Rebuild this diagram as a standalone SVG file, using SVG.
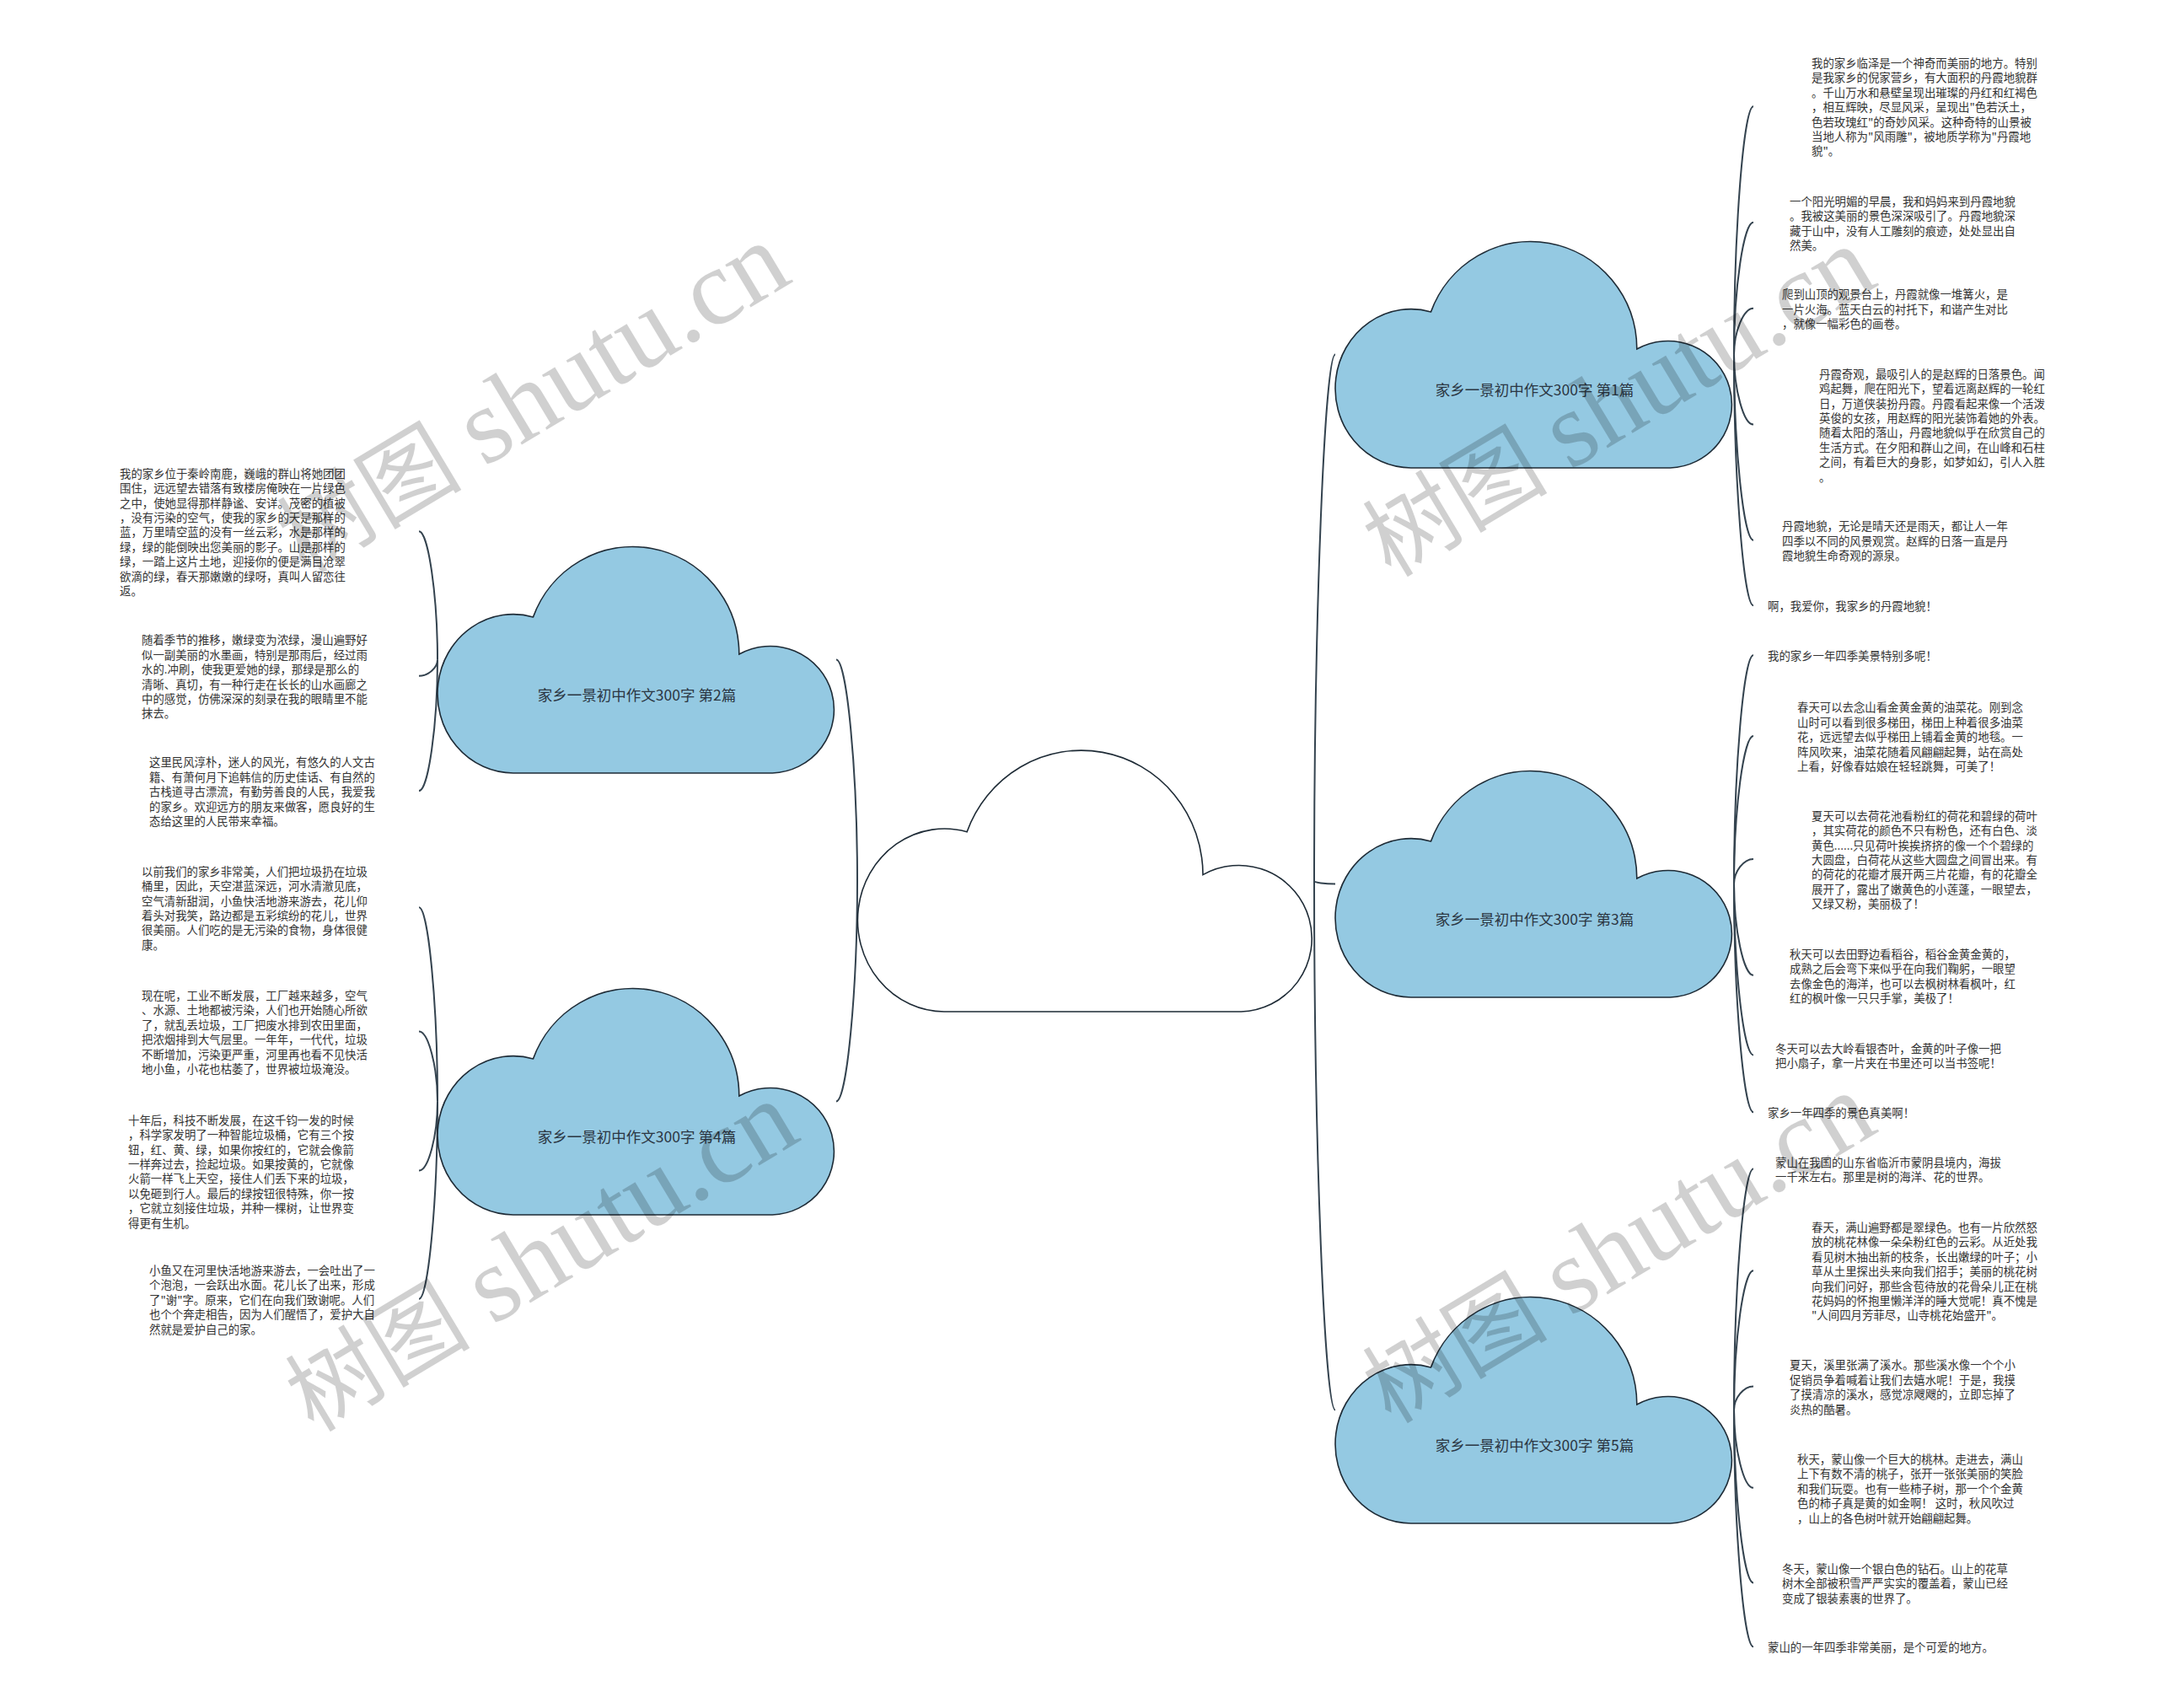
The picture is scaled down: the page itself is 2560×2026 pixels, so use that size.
<svg xmlns="http://www.w3.org/2000/svg" xmlns:xlink="http://www.w3.org/1999/xlink" width="2560" height="2026" viewBox="0 0 2560 2026">
<style>
.cloud{fill:#94c9e2;stroke:#1e2b36;stroke-width:1.6}
.rootc{fill:#ffffff;stroke:#1e2b36;stroke-width:1.6}
.lbl{font-family:"Noto Sans CJK SC",sans-serif;font-size:17.5px;fill:#2b3642;text-anchor:middle;dominant-baseline:central}
.t{font-family:"Noto Sans CJK SC",sans-serif;font-size:13.4px;fill:#333333;dominant-baseline:central}
.conn{fill:none;stroke:#34434f;stroke-width:2}
.wm{font-family:"Liberation Serif","Noto Sans CJK SC",serif;font-size:110px;fill:#000000;opacity:0.18}
.wml{font-size:128px}
</style>
<defs>
<path id="cloudS" d="M 89.9,269 A 89.9 94.2 0 1 1 113.5,83.9 A 126.1 128.0 0 0 1 357.8,128.0 A 75.7 75.3 0 1 1 397.3,269 Z"/>
<path id="cloudL" d="M 103,310 A 103 108.5 0 1 1 130.1,96.7 A 144.4 147.6 0 0 1 410.0,147.6 A 86.7 86.8 0 1 1 455.3,310 Z"/>
</defs>
<rect x="0" y="0" width="2560" height="2026" fill="#ffffff"/>

<g id="connectors">
<path class="conn" d="M 1017,1045 C 1017,913.75 1004.5,782.5 992,782.5"/>
<path class="conn" d="M 1017,1045 C 1017,1175.75 1004.5,1306.5 992,1306.5"/>
<path class="conn" d="M 1559,1045 C 1559,732.75 1571.5,420.5 1584,420.5"/>
<path class="conn" d="M 1559,1045 C 1559,1046.75 1571.5,1048.5 1584,1048.5"/>
<path class="conn" d="M 1559,1045 C 1559,1358.75 1571.5,1672.5 1584,1672.5"/>
<path class="conn" d="M 2057,420.5 C 2057,273.35 2068.5,126.2 2080,126.2"/>
<path class="conn" d="M 2057,420.5 C 2057,342.15 2068.5,263.8 2080,263.8"/>
<path class="conn" d="M 2057,420.5 C 2057,393.1 2068.5,365.7 2080,365.7"/>
<path class="conn" d="M 2057,420.5 C 2057,462.05 2068.5,503.6 2080,503.6"/>
<path class="conn" d="M 2057,420.5 C 2057,530.6 2068.5,640.7 2080,640.7"/>
<path class="conn" d="M 2057,420.5 C 2057,569.4 2068.5,718.3 2080,718.3"/>
<path class="conn" d="M 2057,1048.5 C 2057,912.9 2068.5,777.3 2080,777.3"/>
<path class="conn" d="M 2057,1048.5 C 2057,960.8 2068.5,873.1 2080,873.1"/>
<path class="conn" d="M 2057,1048.5 C 2057,1033.7 2068.5,1018.9 2080,1018.9"/>
<path class="conn" d="M 2057,1048.5 C 2057,1102.65 2068.5,1156.8 2080,1156.8"/>
<path class="conn" d="M 2057,1048.5 C 2057,1149.95 2068.5,1251.4 2080,1251.4"/>
<path class="conn" d="M 2057,1048.5 C 2057,1183.9 2068.5,1319.3 2080,1319.3"/>
<path class="conn" d="M 2057,1672.5 C 2057,1529.45 2068.5,1386.4 2080,1386.4"/>
<path class="conn" d="M 2057,1672.5 C 2057,1589.85 2068.5,1507.2 2080,1507.2"/>
<path class="conn" d="M 2057,1672.5 C 2057,1658.45 2068.5,1644.4 2080,1644.4"/>
<path class="conn" d="M 2057,1672.5 C 2057,1718.65 2068.5,1764.8 2080,1764.8"/>
<path class="conn" d="M 2057,1672.5 C 2057,1774.95 2068.5,1877.4 2080,1877.4"/>
<path class="conn" d="M 2057,1672.5 C 2057,1812.9 2068.5,1953.3 2080,1953.3"/>
<path class="conn" d="M 519,782.5 C 519,706.4 508,630.3 497,630.3"/>
<path class="conn" d="M 519,782.5 C 519,792.15 508,801.8 497,801.8"/>
<path class="conn" d="M 519,782.5 C 519,860.3 508,938.1 497,938.1"/>
<path class="conn" d="M 519,1306.5 C 519,1191.35 508,1076.2 497,1076.2"/>
<path class="conn" d="M 519,1306.5 C 519,1265 508,1223.5 497,1223.5"/>
<path class="conn" d="M 519,1306.5 C 519,1347.55 508,1388.6 497,1388.6"/>
<path class="conn" d="M 519,1306.5 C 519,1423.65 508,1540.8 497,1540.8"/>
</g>

<g id="root"><use xlink:href="#cloudL" href="#cloudL" class="rootc" transform="translate(1017,890)"/></g>

<g id="n1"><use href="#cloudS" class="cloud" transform="translate(1584,286)"/><text class="lbl" x="1820.5" y="461">家乡一景初中作文300字 第1篇</text></g>
<g id="n2"><use href="#cloudS" class="cloud" transform="translate(519,648)"/><text class="lbl" x="755.5" y="823">家乡一景初中作文300字 第2篇</text></g>
<g id="n3"><use href="#cloudS" class="cloud" transform="translate(1584,914)"/><text class="lbl" x="1820.5" y="1089">家乡一景初中作文300字 第3篇</text></g>
<g id="n4"><use href="#cloudS" class="cloud" transform="translate(519,1172)"/><text class="lbl" x="755.5" y="1347">家乡一景初中作文300字 第4篇</text></g>
<g id="n5"><use href="#cloudS" class="cloud" transform="translate(1584,1538)"/><text class="lbl" x="1820.5" y="1713">家乡一景初中作文300字 第5篇</text></g>

<g id="leaf-t1"><text class="t"><tspan x="2149" y="74">我的家乡临泽是一个神奇而美丽的地方。特别</tspan><tspan x="2149" y="91.4">是我家乡的倪家营乡，有大面积的丹霞地貌群</tspan><tspan x="2149" y="108.8">。千山万水和悬壁呈现出璀璨的丹红和红褐色</tspan><tspan x="2149" y="126.2">，相互辉映，尽显风采，呈现出"色若沃土，</tspan><tspan x="2149" y="143.6">色若玫瑰红"的奇妙风采。这种奇特的山景被</tspan><tspan x="2149" y="161">当地人称为"风雨雕"，被地质学称为"丹霞地</tspan><tspan x="2149" y="178.4">貌"。</tspan></text></g>
<g id="leaf-t2"><text class="t"><tspan x="2123" y="237.7">一个阳光明媚的早晨，我和妈妈来到丹霞地貌</tspan><tspan x="2123" y="255.1">。我被这美丽的景色深深吸引了。丹霞地貌深</tspan><tspan x="2123" y="272.5">藏于山中，没有人工雕刻的痕迹，处处显出自</tspan><tspan x="2123" y="289.9">然美。</tspan></text></g>
<g id="leaf-t3"><text class="t"><tspan x="2114" y="348.3">爬到山顶的观景台上，丹霞就像一堆篝火，是</tspan><tspan x="2114" y="365.7">一片火海。蓝天白云的衬托下，和谐产生对比</tspan><tspan x="2114" y="383.1">，就像一幅彩色的画卷。</tspan></text></g>
<g id="leaf-t4"><text class="t"><tspan x="2158" y="442.7">丹霞奇观，最吸引人的是赵辉的日落景色。闻</tspan><tspan x="2158" y="460.1">鸡起舞，爬在阳光下，望着远离赵辉的一轮红</tspan><tspan x="2158" y="477.5">日，万道侠装扮丹霞。丹霞看起来像一个活泼</tspan><tspan x="2158" y="494.9">英俊的女孩，用赵辉的阳光装饰着她的外表。</tspan><tspan x="2158" y="512.3">随着太阳的落山，丹霞地貌似乎在欣赏自己的</tspan><tspan x="2158" y="529.7">生活方式。在夕阳和群山之间，在山峰和石柱</tspan><tspan x="2158" y="547.1">之间，有着巨大的身影，如梦如幻，引人入胜</tspan><tspan x="2158" y="564.5">。</tspan></text></g>
<g id="leaf-t5"><text class="t"><tspan x="2114" y="623.3">丹霞地貌，无论是晴天还是雨天，都让人一年</tspan><tspan x="2114" y="640.7">四季以不同的风景观赏。赵辉的日落一直是丹</tspan><tspan x="2114" y="658.1">霞地貌生命奇观的源泉。</tspan></text></g>
<g id="leaf-t6"><text class="t"><tspan x="2097" y="718.3">啊，我爱你，我家乡的丹霞地貌！</tspan></text></g>
<g id="leaf-t7"><text class="t"><tspan x="2097" y="777.3">我的家乡一年四季美景特别多呢！</tspan></text></g>
<g id="leaf-t8"><text class="t"><tspan x="2132" y="838.3">春天可以去念山看金黄金黄的油菜花。刚到念</tspan><tspan x="2132" y="855.7">山时可以看到很多梯田，梯田上种着很多油菜</tspan><tspan x="2132" y="873.1">花，远远望去似乎梯田上铺着金黄的地毯。一</tspan><tspan x="2132" y="890.5">阵风吹来，油菜花随着风翩翩起舞，站在高处</tspan><tspan x="2132" y="907.9">上看，好像春姑娘在轻轻跳舞，可美了！</tspan></text></g>
<g id="leaf-t9"><text class="t"><tspan x="2149" y="966.7">夏天可以去荷花池看粉红的荷花和碧绿的荷叶</tspan><tspan x="2149" y="984.1">，其实荷花的颜色不只有粉色，还有白色、淡</tspan><tspan x="2149" y="1001.5">黄色......只见荷叶挨挨挤挤的像一个个碧绿的</tspan><tspan x="2149" y="1018.9">大圆盘，白荷花从这些大圆盘之间冒出来。有</tspan><tspan x="2149" y="1036.3">的荷花的花瓣才展开两三片花瓣，有的花瓣全</tspan><tspan x="2149" y="1053.7">展开了，露出了嫩黄色的小莲蓬，一眼望去，</tspan><tspan x="2149" y="1071.1">又绿又粉，美丽极了！</tspan></text></g>
<g id="leaf-t10"><text class="t"><tspan x="2123" y="1130.7">秋天可以去田野边看稻谷，稻谷金黄金黄的，</tspan><tspan x="2123" y="1148.1">成熟之后会弯下来似乎在向我们鞠躬，一眼望</tspan><tspan x="2123" y="1165.5">去像金色的海洋，也可以去枫树林看枫叶，红</tspan><tspan x="2123" y="1182.9">红的枫叶像一只只手掌，美极了！</tspan></text></g>
<g id="leaf-t11"><text class="t"><tspan x="2106" y="1242.7">冬天可以去大岭看银杏叶，金黄的叶子像一把</tspan><tspan x="2106" y="1260.1">把小扇子，拿一片夹在书里还可以当书签呢！</tspan></text></g>
<g id="leaf-t12"><text class="t"><tspan x="2097" y="1319.3">家乡一年四季的景色真美啊！</tspan></text></g>
<g id="leaf-t13"><text class="t"><tspan x="2106" y="1377.7">蒙山在我国的山东省临沂市蒙阴县境内，海拔</tspan><tspan x="2106" y="1395.1">一千米左右。那里是树的海洋、花的世界。</tspan></text></g>
<g id="leaf-t14"><text class="t"><tspan x="2149" y="1455">春天，满山遍野都是翠绿色。也有一片欣然怒</tspan><tspan x="2149" y="1472.4">放的桃花林像一朵朵粉红色的云彩。从近处我</tspan><tspan x="2149" y="1489.8">看见树木抽出新的枝条，长出嫩绿的叶子；小</tspan><tspan x="2149" y="1507.2">草从土里探出头来向我们招手；美丽的桃花树</tspan><tspan x="2149" y="1524.6">向我们问好，那些含苞待放的花骨朵儿正在桃</tspan><tspan x="2149" y="1542">花妈妈的怀抱里懒洋洋的睡大觉呢！真不愧是</tspan><tspan x="2149" y="1559.4">"人间四月芳菲尽，山寺桃花始盛开"。</tspan></text></g>
<g id="leaf-t15"><text class="t"><tspan x="2123" y="1618.3">夏天，溪里张满了溪水。那些溪水像一个个小</tspan><tspan x="2123" y="1635.7">促销员争着喊着让我们去嬉水呢！于是，我摸</tspan><tspan x="2123" y="1653.1">了摸清凉的溪水，感觉凉飕飕的，立即忘掉了</tspan><tspan x="2123" y="1670.5">炎热的酷暑。</tspan></text></g>
<g id="leaf-t16"><text class="t"><tspan x="2132" y="1730">秋天，蒙山像一个巨大的桃林。走进去，满山</tspan><tspan x="2132" y="1747.4">上下有数不清的桃子，张开一张张美丽的笑脸</tspan><tspan x="2132" y="1764.8">和我们玩耍。也有一些柿子树，那一个个金黄</tspan><tspan x="2132" y="1782.2">色的柿子真是黄的如金啊！ 这时，秋风吹过</tspan><tspan x="2132" y="1799.6">，山上的各色树叶就开始翩翩起舞。</tspan></text></g>
<g id="leaf-t17"><text class="t"><tspan x="2114" y="1860">冬天，蒙山像一个银白色的钻石。山上的花草</tspan><tspan x="2114" y="1877.4">树木全部被积雪严严实实的覆盖着，蒙山已经</tspan><tspan x="2114" y="1894.8">变成了银装素裹的世界了。</tspan></text></g>
<g id="leaf-t18"><text class="t"><tspan x="2097" y="1953.3">蒙山的一年四季非常美丽，是个可爱的地方。</tspan></text></g>

<g id="leaf-l1"><text class="t"><tspan x="142" y="560.7">我的家乡位于秦岭南鹿，巍峨的群山将她团团</tspan><tspan x="142" y="578.1">围住，远远望去错落有致楼房俺映在一片绿色</tspan><tspan x="142" y="595.5">之中，使她显得那样静谧、安详。茂密的植被</tspan><tspan x="142" y="612.9">，没有污染的空气，使我的家乡的天是那样的</tspan><tspan x="142" y="630.3">蓝，万里晴空蓝的没有一丝云彩，水是那样的</tspan><tspan x="142" y="647.7">绿，绿的能倒映出您美丽的影子。山是那样的</tspan><tspan x="142" y="665.1">绿，一踏上这片土地，迎接你的便是满目沧翠</tspan><tspan x="142" y="682.5">欲滴的绿，春天那嫩嫩的绿呀，真叫人留恋往</tspan><tspan x="142" y="699.9">返。</tspan></text></g>
<g id="leaf-l2"><text class="t"><tspan x="168" y="758.3">随着季节的推移，嫩绿变为浓绿，漫山遍野好</tspan><tspan x="168" y="775.7">似一副美丽的水墨画，特别是那雨后，经过雨</tspan><tspan x="168" y="793.1">水的.冲刷，使我更爱她的绿，那绿是那么的</tspan><tspan x="168" y="810.5">清晰、真切，有一种行走在长长的山水画廊之</tspan><tspan x="168" y="827.9">中的感觉，仿佛深深的刻录在我的眼睛里不能</tspan><tspan x="168" y="845.3">抹去。</tspan></text></g>
<g id="leaf-l3"><text class="t"><tspan x="177" y="903.3">这里民风淳朴，迷人的风光，有悠久的人文古</tspan><tspan x="177" y="920.7">籍、有萧何月下追韩信的历史佳话、有自然的</tspan><tspan x="177" y="938.1">古栈道寻古漂流，有勤劳善良的人民，我爱我</tspan><tspan x="177" y="955.5">的家乡。欢迎远方的朋友来做客，愿良好的生</tspan><tspan x="177" y="972.9">态给这里的人民带来幸福。</tspan></text></g>
<g id="leaf-l4"><text class="t"><tspan x="168" y="1032.7">以前我们的家乡非常美，人们把垃圾扔在垃圾</tspan><tspan x="168" y="1050.1">桶里，因此，天空湛蓝深远，河水清澈见底，</tspan><tspan x="168" y="1067.5">空气清新甜润，小鱼快活地游来游去，花儿仰</tspan><tspan x="168" y="1084.9">着头对我笑，路边都是五彩缤纷的花儿，世界</tspan><tspan x="168" y="1102.3">很美丽。人们吃的是无污染的食物，身体很健</tspan><tspan x="168" y="1119.7">康。</tspan></text></g>
<g id="leaf-l5"><text class="t"><tspan x="168" y="1180">现在呢，工业不断发展，工厂越来越多，空气</tspan><tspan x="168" y="1197.4">、水源、土地都被污染，人们也开始随心所欲</tspan><tspan x="168" y="1214.8">了，就乱丢垃圾，工厂把废水排到农田里面，</tspan><tspan x="168" y="1232.2">把浓烟排到大气层里。一年年，一代代，垃圾</tspan><tspan x="168" y="1249.6">不断增加，污染更严重，河里再也看不见快活</tspan><tspan x="168" y="1267">地小鱼，小花也枯萎了，世界被垃圾淹没。</tspan></text></g>
<g id="leaf-l6"><text class="t"><tspan x="152" y="1327.7">十年后，科技不断发展，在这千钧一发的时候</tspan><tspan x="152" y="1345.1">，科学家发明了一种智能垃圾桶，它有三个按</tspan><tspan x="152" y="1362.5">钮，红、黄、绿，如果你按红的，它就会像箭</tspan><tspan x="152" y="1379.9">一样奔过去，捡起垃圾。如果按黄的，它就像</tspan><tspan x="152" y="1397.3">火箭一样飞上天空，接住人们丢下来的垃圾，</tspan><tspan x="152" y="1414.7">以免砸到行人。最后的绿按钮很特殊，你一按</tspan><tspan x="152" y="1432.1">，它就立刻接住垃圾，并种一棵树，让世界变</tspan><tspan x="152" y="1449.5">得更有生机。</tspan></text></g>
<g id="leaf-l7"><text class="t"><tspan x="177" y="1506">小鱼又在河里快活地游来游去，一会吐出了一</tspan><tspan x="177" y="1523.4">个泡泡，一会跃出水面。花儿长了出来，形成</tspan><tspan x="177" y="1540.8">了"谢"字。原来，它们在向我们致谢呢。人们</tspan><tspan x="177" y="1558.2">也个个奔走相告，因为人们醒悟了，爱护大自</tspan><tspan x="177" y="1575.6">然就是爱护自己的家。</tspan></text></g>

<g id="watermarks">
<text class="wm" transform="translate(362,682) rotate(-31)">树图 <tspan class="wml">shutu.cn</tspan></text>
<text class="wm" transform="translate(1650,686) rotate(-31)">树图 <tspan class="wml">shutu.cn</tspan></text>
<text class="wm" transform="translate(372,1700) rotate(-31)">树图 <tspan class="wml">shutu.cn</tspan></text>
<text class="wm" transform="translate(1650,1690) rotate(-31)">树图 <tspan class="wml">shutu.cn</tspan></text>
</g>
</svg>
